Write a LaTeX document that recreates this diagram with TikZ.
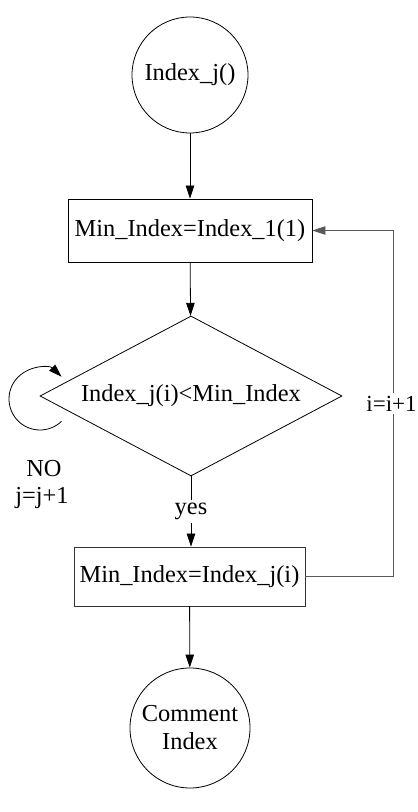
\documentclass[tikz,border=0pt]{standalone}
\usepackage{fontspec}
\setmainfont{Liberation Serif}
\usetikzlibrary{shapes.geometric,arrows.meta}
\begin{document}
\begin{tikzpicture}[x=1pt,y=1pt,
  every node/.style={font=\fontsize{24.4}{28}\selectfont, inner sep=0pt},
  line/.style={line width=0.8pt, draw=black},
  flow/.style={line, -{Triangle[length=13pt,width=8.5pt]}},
  back/.style={line width=0.8pt, draw=black!65, -{Triangle[length=13pt,width=8.5pt]}},
  term/.style={circle, line, align=center},
  procbox/.style={rectangle, line},
  decide/.style={diamond, line, aspect=1.8875, minimum width=302pt, minimum height=160pt},
  gaplabel/.style={fill=white, inner sep=3pt}
]
\useasboundingbox (0,0) rectangle (418,812);

% terminals, process boxes and the decision
\node[term, minimum size=116pt] (start) at (190,737) {Index\_j()};
\node[procbox, minimum width=244pt, minimum height=63pt] (init) at (190,581.5) {Min\_Index=Index\_1(1)};
\node[decide] (test) at (191,416) {Index\_j(i)<Min\_Index};
\node[procbox, draw=black!80, minimum width=231pt, minimum height=59pt] (update) at (189.5,235.5) {Min\_Index=Index\_j(i)};
\node[term, minimum size=120pt] (done) at (190,84) {Comment\\Index};

% main flow
\draw[flow] (start) -- (init);
\draw[flow] (init) -- (test);
\draw[flow] (test.south) -- node[gaplabel] (yes) {yes} (update.north -| test.south);
\draw[flow] (update) -- (done);

% loop back over i
\coordinate (br) at (393,235.5);
\coordinate (tr) at (393,581.5);
\draw[back] (update.east) -- (br) -- node[gaplabel, font=\fontsize{23}{28}\selectfont, xshift=-1.5pt] (inc) {i=i+1} (tr) -- (init.east);

% self loop over j
\coordinate (loopc) at (40,413);
\draw[flow] ([shift={(-46:31)}]loopc) arc[start angle=-46, end angle=-314, radius=31];
\node[anchor=base] (no) at (44,335) {NO};
\node[anchor=base] (jinc) at (42,308) {j=j+1};
\end{tikzpicture}
\end{document}
